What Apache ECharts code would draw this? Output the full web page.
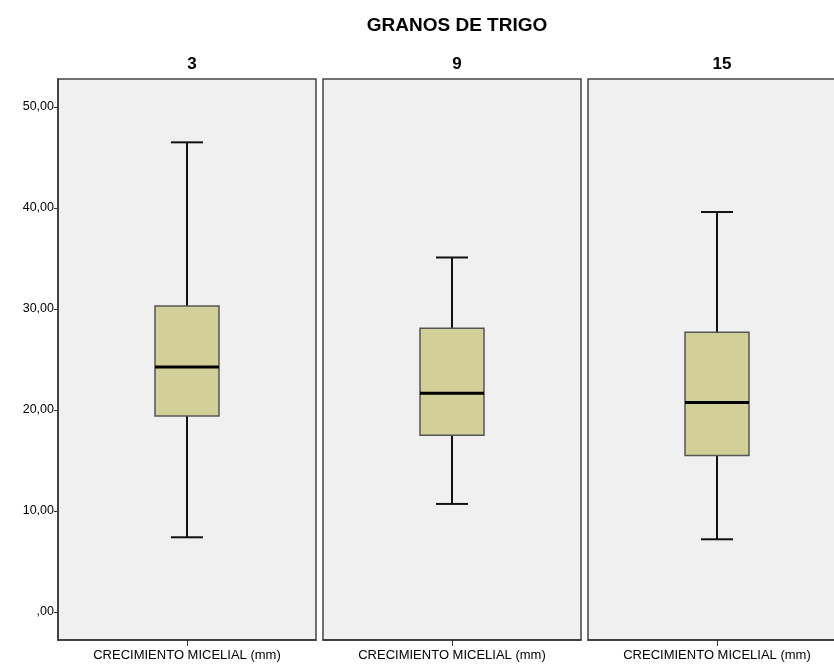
<!DOCTYPE html>
<html>
<head>
<meta charset="utf-8">
<script src="https://cdn.jsdelivr.net/npm/echarts@6/dist/echarts.min.js"></script>
<style>
  html, body { margin: 0; padding: 0; background: #ffffff; }
  #chart { width: 834px; height: 668px; }
</style>
</head>
<body>
<div id="chart"></div>
<script>
// Crecimiento micelial (mm) sobre granos de trigo, por panel
const panelTitles = ['3', '9', '15'];
const categories = ['CRECIMIENTO MICELIAL (mm)'];
const whiskerLow  = [7.4, 10.7, 7.2];
const quartile1   = [19.4, 17.5, 15.5];
const medians     = [24.25, 21.65, 20.75];
const quartile3   = [30.3, 28.1, 27.7];
const whiskerHigh = [46.5, 35.1, 39.6];
const yTicks = [0, 10, 20, 30, 40, 50];

const FONT = 'Liberation Sans, Arial, sans-serif';
const panelLeft = [58, 323, 588];
const panelWidth = 258;
const yMin = -2.77, yMax = 52.77;

function fmt(v) {
  if (v === 0) return ',00';
  return v.toFixed(2).replace('.', ',');
}

function renderBox(params, api) {
  const x = api.value(0);
  const pLow = api.coord([x, api.value(1)]);
  const pQ1 = api.coord([x, api.value(2)]);
  const pMed = api.coord([x, api.value(3)]);
  const pQ3 = api.coord([x, api.value(4)]);
  const pHigh = api.coord([x, api.value(5)]);
  const cx = Math.round(pMed[0]);
  const halfBox = 32;
  const halfCap = 16;
  const whisker = { stroke: '#111', lineWidth: 2 };
  return {
    type: 'group',
    children: [
      { type: 'line', shape: { x1: cx, y1: pQ3[1], x2: cx, y2: pHigh[1] }, style: whisker },
      { type: 'line', shape: { x1: cx, y1: pQ1[1], x2: cx, y2: pLow[1] }, style: whisker },
      { type: 'line', shape: { x1: cx - halfCap, y1: pHigh[1], x2: cx + halfCap, y2: pHigh[1] }, style: whisker },
      { type: 'line', shape: { x1: cx - halfCap, y1: pLow[1], x2: cx + halfCap, y2: pLow[1] }, style: whisker },
      { type: 'rect', shape: { x: cx - halfBox, y: pQ3[1], width: halfBox * 2, height: pQ1[1] - pQ3[1] },
        style: { fill: '#d3cf98', stroke: '#555', lineWidth: 1.5 } },
      { type: 'line', shape: { x1: cx - halfBox, y1: pMed[1], x2: cx + halfBox, y2: pMed[1] },
        style: { stroke: '#000', lineWidth: 3 } }
    ]
  };
}

const grids = [], xAxes = [], yAxes = [], series = [], titles = [];

titles.push({
  text: 'GRANOS DE TRIGO',
  left: 452, top: 11, textAlign: 'center',
  textStyle: { fontFamily: FONT, fontSize: 19, fontWeight: 'bold', color: '#000' }
});

for (let i = 0; i < panelTitles.length; i++) {
  grids.push({
    left: panelLeft[i], width: panelWidth, top: 79, bottom: 28,
    show: true, backgroundColor: '#f0f0f0', borderColor: '#444', borderWidth: 1.5,
    containLabel: false, outerBoundsMode: 'none'
  });
  titles.push({
    text: panelTitles[i],
    left: panelLeft[i] + panelWidth / 2, top: 51, textAlign: 'center',
    textStyle: { fontFamily: FONT, fontSize: 17, fontWeight: 'bold', color: '#000' }
  });
  xAxes.push({
    type: 'category', gridIndex: i, data: categories, boundaryGap: true,
    axisLine: { show: true, onZero: false, lineStyle: { color: '#333', width: 1.5 } },
    axisTick: { show: true, alignWithLabel: true, length: 6, lineStyle: { color: '#333' } },
    axisLabel: { fontFamily: FONT, fontSize: 13, color: '#000', margin: 9 },
    splitLine: { show: false }
  });
  yAxes.push({
    type: 'value', gridIndex: i, min: yMin, max: yMax,
    axisLine: { show: i === 0, onZero: false, lineStyle: { color: '#333', width: 1.5 } },
    axisTick: { show: i === 0, length: 4, customValues: yTicks, lineStyle: { color: '#333' } },
    axisLabel: { show: i === 0, customValues: yTicks, formatter: fmt,
      fontFamily: FONT, fontSize: 12.5, color: '#000', margin: 4 },
    splitLine: { show: false }
  });
  series.push({
    type: 'custom', xAxisIndex: i, yAxisIndex: i,
    renderItem: renderBox,
    encode: { x: 0, y: [1, 2, 3, 4, 5] },
    data: [[0, whiskerLow[i], quartile1[i], medians[i], quartile3[i], whiskerHigh[i]]],
    silent: true
  });
}

const chart = echarts.init(document.getElementById('chart'), null, { renderer: 'canvas' });
chart.setOption({
  backgroundColor: '#ffffff',
  animation: false,
  title: titles,
  grid: grids,
  xAxis: xAxes,
  yAxis: yAxes,
  series: series
});
</script>
</body>
</html>
